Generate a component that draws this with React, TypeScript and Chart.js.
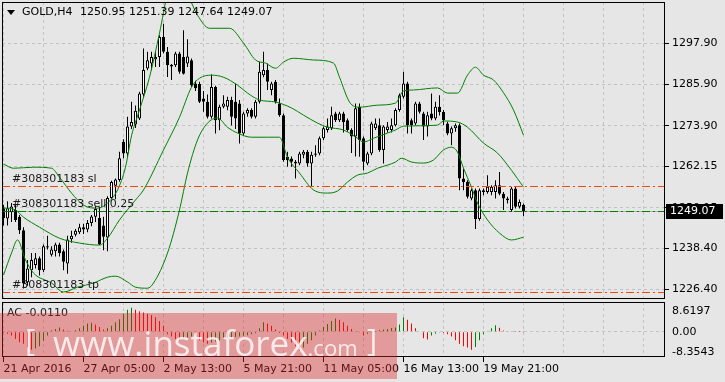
import { useEffect, useRef } from 'react';
import { Chart, registerables } from 'chart.js';

Chart.register(...registerables);

const FONT = 'DejaVu Sans';
const BG = '#e6e6e6';
const GRID = '#c3c3c3';
const GREEN = '#008000';
const ORANGE = '#ff4500';

const symbolTitle = 'GOLD,H4';
const titleValues = '1250.95 1251.39 1247.64 1249.07';

const opens = [
  1250.0, 1247.0, 1248.8, 1249.5, 1247.5, 1243.6, 1228.5, 1232.0, 1233.5, 1235.5,
  1232.0, 1238.6, 1236.5, 1237.5, 1239.5, 1237.5, 1234.0, 1241.0, 1242.3, 1243.0,
  1244.5, 1243.8, 1245.7, 1247.5, 1247.2, 1245.0, 1241.5, 1253.0, 1256.5, 1258.2,
  1269.3, 1265.9, 1273.7, 1274.3, 1276.0, 1283.0, 1290.5, 1292.0, 1293.2, 1293.9,
  1299.7, 1295.4, 1291.6, 1291.5, 1294.9, 1293.9, 1292.0, 1292.9, 1286.2, 1286.0,
  1281.8, 1280.9, 1276.5, 1285.2, 1275.5, 1279.4, 1279.4, 1281.4, 1280.9, 1280.4,
  1271.7, 1277.5, 1278.5, 1276.5, 1280.9, 1288.6, 1290.1, 1284.3, 1286.7, 1280.4,
  1277.0, 1264.9, 1264.4, 1263.5, 1263.0, 1265.5, 1266.4, 1263.0, 1265.5, 1265.9,
  1270.3, 1272.7, 1273.2, 1277.5, 1275.5, 1277.5, 1275.5, 1272.7, 1270.8, 1279.4,
  1270.3, 1263.0, 1265.9, 1273.2, 1274.1, 1266.9, 1272.7, 1272.7, 1274.1, 1278.5,
  1282.3, 1286.2, 1275.5, 1274.6, 1280.4, 1277.5, 1273.7, 1277.5, 1276.0, 1279.4,
  1277.9, 1274.6, 1271.7, 1273.2, 1274.1, 1258.6, 1257.6, 1252.8, 1255.2, 1246.9,
  1254.7, 1254.7, 1254.7, 1254.7, 1256.7, 1254.2, 1252.8, 1249.5, 1255.7, 1250.4,
  1250.95,
];
const highs = [
  1251.0, 1252.0, 1251.5, 1251.0, 1248.0, 1244.5, 1235.0, 1237.0, 1237.0, 1236.0,
  1239.5, 1242.0, 1239.0, 1240.0, 1240.0, 1238.0, 1242.0, 1243.5, 1244.0, 1245.5,
  1245.5, 1246.6, 1248.0, 1250.6, 1250.4, 1247.5, 1253.5, 1258.0, 1258.6, 1266.4,
  1270.0, 1276.5, 1280.9, 1279.8, 1283.8, 1296.3, 1295.4, 1295.4, 1295.4, 1300.2,
  1303.5, 1296.8, 1291.8, 1295.4, 1295.4, 1301.6, 1299.0, 1293.4, 1287.0, 1286.7,
  1284.0, 1283.0, 1288.8, 1285.5, 1280.0, 1282.8, 1282.3, 1282.3, 1286.2, 1281.4,
  1278.0, 1279.0, 1279.0, 1281.4, 1292.5, 1295.4, 1292.0, 1286.7, 1287.2, 1281.8,
  1277.5, 1266.4, 1265.0, 1264.0, 1266.4, 1266.9, 1266.9, 1266.4, 1268.3, 1270.8,
  1273.7, 1276.0, 1279.4, 1278.0, 1278.0, 1278.0, 1276.0, 1273.2, 1280.4, 1280.4,
  1270.8, 1266.4, 1275.1, 1276.0, 1276.0, 1274.1, 1275.0, 1276.0, 1279.0, 1283.3,
  1289.6, 1286.7, 1276.0, 1280.9, 1280.9, 1278.0, 1278.0, 1283.3, 1280.9, 1282.8,
  1278.5, 1275.1, 1273.7, 1274.6, 1274.6, 1261.5, 1258.1, 1255.7, 1255.7, 1255.7,
  1255.7, 1259.6, 1256.7, 1258.1, 1260.5, 1254.7, 1253.3, 1256.2, 1256.2, 1252.5,
  1251.39,
];
const lows = [
  1245.0, 1245.0, 1246.0, 1246.0, 1242.5, 1226.7, 1227.5, 1230.0, 1232.5, 1230.5,
  1231.5, 1238.0, 1236.0, 1236.0, 1236.0, 1232.0, 1231.0, 1240.0, 1241.8, 1242.5,
  1242.5, 1243.0, 1244.8, 1246.0, 1239.3, 1237.8, 1237.5, 1252.6, 1252.6, 1257.7,
  1264.5, 1264.8, 1273.0, 1273.3, 1275.6, 1282.3, 1290.0, 1290.0, 1291.0, 1291.0,
  1294.9, 1288.1, 1287.2, 1291.0, 1289.0, 1288.8, 1291.0, 1285.2, 1284.0, 1280.5,
  1278.0, 1276.0, 1276.0, 1271.7, 1272.6, 1279.0, 1278.4, 1274.0, 1273.0, 1268.8,
  1271.2, 1276.5, 1276.0, 1276.0, 1280.4, 1288.0, 1284.3, 1282.8, 1280.4, 1276.5,
  1263.5, 1262.0, 1262.0, 1258.6, 1262.5, 1264.5, 1262.0, 1256.2, 1264.9, 1265.4,
  1269.8, 1272.0, 1272.7, 1275.0, 1275.0, 1272.0, 1272.2, 1266.0, 1265.0, 1264.9,
  1261.0, 1262.5, 1265.4, 1272.7, 1266.4, 1263.0, 1272.0, 1272.0, 1273.7, 1278.0,
  1281.8, 1271.7, 1271.7, 1274.1, 1277.5, 1269.8, 1270.8, 1275.5, 1275.5, 1276.9,
  1274.1, 1271.2, 1268.3, 1272.2, 1255.2, 1255.2, 1252.8, 1252.3, 1244.0, 1246.4,
  1253.8, 1254.2, 1253.8, 1252.8, 1253.8, 1249.5, 1251.4, 1249.0, 1249.9, 1249.9,
  1247.64,
];
const closes = [
  1247.1, 1250.0, 1250.5, 1246.6, 1243.6, 1228.2, 1232.5, 1235.0, 1235.5, 1232.0,
  1239.0, 1239.0, 1238.0, 1239.5, 1237.0, 1234.5, 1240.9, 1242.0, 1243.5, 1244.5,
  1243.8, 1245.7, 1247.6, 1249.8, 1239.5, 1241.7, 1253.0, 1257.6, 1258.3, 1264.5,
  1265.9, 1273.7, 1275.0, 1278.3, 1283.3, 1290.1, 1292.9, 1293.9, 1293.9, 1299.7,
  1295.4, 1291.5, 1291.1, 1294.9, 1289.6, 1289.0, 1294.0, 1285.7, 1284.8, 1280.9,
  1280.9, 1276.5, 1285.2, 1275.5, 1279.4, 1280.4, 1281.4, 1276.5, 1276.0, 1271.7,
  1277.5, 1278.5, 1276.5, 1280.9, 1289.6, 1290.1, 1286.7, 1286.2, 1280.9, 1277.0,
  1264.0, 1263.9, 1263.5, 1263.0, 1265.9, 1266.4, 1263.0, 1265.5, 1265.9, 1270.3,
  1273.2, 1273.7, 1277.0, 1275.5, 1277.5, 1275.0, 1272.7, 1270.8, 1279.0, 1269.8,
  1263.5, 1265.9, 1274.6, 1274.6, 1266.9, 1273.7, 1273.7, 1274.1, 1278.5, 1282.8,
  1286.2, 1274.1, 1274.1, 1280.4, 1278.0, 1273.7, 1277.0, 1276.0, 1279.4, 1277.9,
  1275.5, 1271.7, 1273.2, 1274.1, 1258.6, 1257.6, 1253.3, 1255.2, 1246.9, 1255.2,
  1255.2, 1256.2, 1256.2, 1256.7, 1254.2, 1252.8, 1252.3, 1255.7, 1250.4, 1251.8,
  1249.07,
];

// Bollinger bands at these bar positions
const upperIdx = [0, 2.5, 7.5, 12, 14, 17, 20, 23.5, 26, 28.5, 30.5, 32, 34, 36.5, 39, 41, 43.5, 46, 48.5, 51.5,
  56.5, 60, 63, 65.5, 68, 70, 72.5, 77.5, 82.5, 84, 86.5, 89, 93.5, 98, 100, 102.5, 108.5, 111, 113.5, 116,
  118, 120, 122.5, 125, 127.5, 130];
const upperBand = [1262.8, 1261.6, 1261.9, 1261.6, 1259.0, 1254.4, 1250.9, 1250.0, 1251.5, 1255.3,
  1261.9, 1271.0, 1278.5, 1288.0, 1300.8, 1312.0, 1316.0, 1312.0, 1306.0, 1302.2,
  1302.2, 1297.9, 1293.0, 1292.1, 1290.6, 1292.4, 1293.5, 1293.0, 1292.1, 1288.0,
  1280.8, 1279.3, 1279.9, 1280.5, 1284.0, 1284.3, 1284.9, 1283.4, 1283.4, 1288.6,
  1290.9, 1288.6, 1287.2, 1283.5, 1278.5, 1271.2];
const midIdx = [0, 3, 5, 9, 14, 19, 24, 26, 29, 33, 35, 40, 44, 47, 49, 52, 55, 58.5, 61, 64,
  68, 72, 75, 78.5, 81, 85, 88.5, 90, 92.5, 96, 98, 100, 108.5, 110, 113.5, 116, 120, 123.5, 127, 130];
const midBand = [1250.1, 1249.5, 1247.4, 1244.5, 1241.3, 1239.9, 1239.3, 1241.3, 1246.6, 1252.4,
  1255.3, 1266.9, 1276.4, 1285.1, 1287.7, 1288.6, 1288.0, 1285.7, 1283.4, 1281.4,
  1280.8, 1279.1, 1277.0, 1274.7, 1273.5, 1272.7, 1270.3, 1269.2, 1270.3, 1271.8,
  1272.7, 1273.8, 1274.1, 1275.3, 1275.0, 1273.5, 1268.9, 1266.0, 1261.0, 1256.1];
const lowIdx = [0, 2, 3.5, 5.5, 7.5, 12, 15, 18.5, 22.5, 26, 28, 31, 33, 36, 37.5, 41, 44, 46, 48.5, 51,
  53.5, 56, 58.5, 62, 66, 69, 71, 74, 77.5, 81, 83.5, 86, 88.5, 91, 93.5, 96, 98, 99.5, 102, 105,
  107.5, 110, 112, 113.5, 115, 117, 118.5, 121, 124, 127, 130];
const lowBand = [1230.6, 1237.0, 1240.8, 1235.0, 1231.2, 1228.3, 1225.7, 1227.1, 1228.3, 1230.0,
  1230.3, 1228.6, 1227.1, 1226.8, 1228.3, 1237.0, 1249.5, 1260.2, 1269.8, 1274.7,
  1276.2, 1273.5, 1271.8, 1270.6, 1270.6, 1270.6, 1264.8, 1260.2, 1255.3, 1254.4,
  1255.0, 1257.6, 1259.6, 1260.2, 1261.6, 1262.5, 1263.4, 1264.5, 1263.4, 1263.1,
  1264.0, 1266.9, 1267.7, 1266.3, 1261.6, 1256.1, 1251.5, 1246.6, 1242.8, 1240.8,
  1241.6];

const acValues = [
  -0.3, -0.8, -1.6, -3.0, -4.4, -5.0, -6.4, -7.5, -7.0, -6.0,
  -3.7, -1.5, 0.5, 1.2, 1.8, 1.0, 0.4, 0.2, 0.6, 1.5,
  2.5, 3.4, 3.8, 3.0, 2.0, 1.0, 1.5, 2.5, 4.0, 5.2,
  7.5, 9.2, 10.0, 9.2, 8.5, 8.0, 7.5, 7.0, 6.0, 4.5,
  2.5, -1.0, -2.0, -3.0, -3.5, -3.0, -2.5, -2.0, -1.5, -3.5,
  -4.5, -5.0, -4.5, -4.0, -3.6, -3.2, -2.8, -2.5, -2.2, -2.0,
  -1.7, -1.4, -1.0, -0.6, 1.5, 4.0, 3.5, 2.5, 1.0, -0.5,
  -1.5, -3.0, -4.5, -6.0, -7.8, -6.5, -5.0, -3.5, -1.5, 0.5,
  2.0, 3.2, 4.5, 5.5, 5.0, 4.0, 2.5, 1.2, 0.3, -0.3,
  -1.6, -0.8, -0.3, 0.3, 0.6, 0.9, 1.2, 1.6, 1.8, 3.0,
  6.1, 5.0, 3.5, 1.5, 0.2, -2.7, -3.2, -1.5, -0.8, -0.3,
  -0.5, -1.0, -2.0, -3.5, -5.0, -6.0, -6.5, -7.5, -6.3, -3.5,
  -1.0, 0.3, 1.5, 2.7, 1.7, 0.5, 0.2, 0.1, 0.05, 0.02,
  -0.011,
];
const acLabel = 'AC -0.0110';
const acTicks = [8.6197, 0, -8.3543];
const acTickLabels = ['8.6197', '0.00', '-8.3543'];

const priceTicks = [1226.4, 1238.4, 1250.15, 1262.15, 1273.9, 1285.9, 1297.9];
const gridIdx = [0, 10, 20, 30, 40, 50, 60, 70, 80, 90, 100, 110, 120, 130, 140, 150, 160];
const timeTickIdx = [0, 20, 40, 60, 80, 100, 120];
const timeTickLabels = ['21 Apr 2016', '27 Apr 05:00', '2 May 13:00', '5 May 21:00', '11 May 05:00', '16 May 13:00', '19 May 21:00'];

const orderId = '#308301183';
const slPrice = 1256.43;
const tpPrice = 1225.7;
const sellPrice = 1249.3;
const sellLots = '0.25';
const bidPrice = 1249.07;

const X_MIN = -0.375;
const X_MAX = 165.375;
const Y_MIN = 1223.67;
const Y_MAX = 1309.82;
const AC_MIN = -10.5;
const AC_MAX = 12.4;

const DASHDOT = [8, 3, 2, 3];

const font = (size = 11) => `${size}px "${FONT}"`;

const noPad = (s: any) => {
  s.paddingTop = 0;
  s.paddingBottom = 0;
  s.paddingLeft = 0;
  s.paddingRight = 0;
};

const mainOverlay = {
  id: 'mainOverlay',
  beforeDatasetsDraw(chart: any) {
    const { ctx, chartArea: a, scales } = chart;
    const yb = Math.round(scales.y.getPixelForValue(bidPrice)) + 0.5;
    ctx.save();
    ctx.strokeStyle = '#b0b0b0';
    ctx.lineWidth = 1;
    ctx.beginPath();
    ctx.moveTo(a.left, yb);
    ctx.lineTo(a.right, yb);
    ctx.stroke();
    ctx.restore();
  },
  afterDatasetsDraw(chart: any) {
    const { ctx, chartArea: a, scales } = chart;
    const lines = [
      { p: slPrice, c: ORANGE, t: `${orderId} sl` },
      { p: sellPrice, c: GREEN, t: `${orderId} sell ${sellLots}` },
      { p: tpPrice, c: ORANGE, t: `${orderId} tp` },
    ];
    ctx.save();
    ctx.lineWidth = 1;
    ctx.setLineDash(DASHDOT);
    for (const l of lines) {
      const y = Math.round(scales.y.getPixelForValue(l.p)) + 0.5;
      ctx.strokeStyle = l.c;
      ctx.beginPath();
      ctx.moveTo(a.left, y);
      ctx.lineTo(a.right, y);
      ctx.stroke();
    }
    ctx.setLineDash([]);
    ctx.font = font(11);
    ctx.fillStyle = '#1a1a1a';
    ctx.textBaseline = 'middle';
    ctx.textAlign = 'left';
    for (const l of lines) {
      const y = scales.y.getPixelForValue(l.p);
      ctx.fillText(l.t, 12, y - 7);
    }
    ctx.restore();
  },
  afterDraw(chart: any) {
    const { ctx, chartArea: a, scales } = chart;
    ctx.save();
    ctx.strokeStyle = '#000';
    ctx.lineWidth = 1;
    ctx.strokeRect(a.left + 0.5, a.top + 0.5, a.right - a.left - 1, a.bottom - a.top - 1);
    ctx.fillStyle = '#000';
    ctx.beginPath();
    ctx.moveTo(7, 10);
    ctx.lineTo(15, 10);
    ctx.lineTo(11, 15);
    ctx.closePath();
    ctx.fill();
    ctx.font = font(11);
    ctx.textBaseline = 'middle';
    ctx.textAlign = 'left';
    ctx.fillText(symbolTitle, 22, 12.5);
    ctx.fillText(titleValues, 80, 12.5);
    const yb = Math.round(scales.y.getPixelForValue(bidPrice));
    ctx.fillStyle = '#000';
    ctx.fillRect(666, yb - 7, 57, 15);
    ctx.fillStyle = '#fff';
    ctx.fillText(bidPrice.toFixed(2), 670, yb + 0.5);
    ctx.restore();
  },
};

const acOverlay = {
  id: 'acOverlay',
  afterDraw(chart: any) {
    const { ctx, chartArea: a } = chart;
    ctx.save();
    ctx.strokeStyle = '#000';
    ctx.lineWidth = 1;
    ctx.strokeRect(a.left + 0.5, a.top + 0.5, a.right - a.left - 1, a.bottom - a.top - 1);
    ctx.font = font(11);
    ctx.fillStyle = '#1a1a1a';
    ctx.textBaseline = 'middle';
    ctx.fillText(acLabel, 7, 13);
    ctx.restore();
  },
};

export default function App() {
  const mainRef = useRef<HTMLCanvasElement>(null);
  const acRef = useRef<HTMLCanvasElement>(null);

  useEffect(() => {
    document.body.style.margin = '0';
    document.body.style.background = BG;
    Chart.defaults.font.family = FONT;
    Chart.defaults.font.size = 11;

    const idx = closes.map((_, i) => i);
    const bodyColors = closes.map((c, i) => (c >= opens[i] ? '#ffffff' : '#000000'));

    const main = new Chart(mainRef.current as HTMLCanvasElement, {
      type: 'bar',
      data: {
        datasets: [
          {
            type: 'line',
            data: upperIdx.map((x, k) => ({ x, y: upperBand[k] })),
            borderColor: GREEN, borderWidth: 1, pointRadius: 0, cubicInterpolationMode: 'monotone', order: 0,
          } as any,
          {
            type: 'line',
            data: midIdx.map((x, k) => ({ x, y: midBand[k] })),
            borderColor: GREEN, borderWidth: 1, pointRadius: 0, cubicInterpolationMode: 'monotone', order: 0,
          } as any,
          {
            type: 'line',
            data: lowIdx.map((x, k) => ({ x, y: lowBand[k] })),
            borderColor: GREEN, borderWidth: 1, pointRadius: 0, cubicInterpolationMode: 'monotone', order: 0,
          } as any,
          {
            type: 'bar',
            data: idx.map((i) => ({ x: i, y: [opens[i], closes[i]] })),
            backgroundColor: bodyColors, borderColor: '#000', borderWidth: 1, borderSkipped: false,
            barThickness: 3, grouped: false, inflateAmount: 0, order: 1,
          } as any,
          {
            type: 'bar',
            data: idx.map((i) => ({ x: i, y: [lows[i], highs[i]] })),
            backgroundColor: '#000', borderWidth: 0, barThickness: 1, grouped: false, inflateAmount: 0, order: 2,
          } as any,
        ],
      },
      options: {
        responsive: false,
        animation: false,
        devicePixelRatio: 1,
        layout: { padding: { left: 2, top: 2, right: 0, bottom: 1 } },
        plugins: { legend: { display: false }, tooltip: { enabled: false } },
        scales: {
          x: {
            type: 'linear', min: X_MIN, max: X_MAX, offset: false,
            afterBuildTicks: (s: any) => { s.ticks = gridIdx.map((v) => ({ value: v })); },
            afterFit: (s: any) => { s.height = 0; noPad(s); },
            ticks: { display: false },
            grid: { color: GRID, drawTicks: false, offset: false },
            border: { display: false, dash: [3, 3] },
          },
          y: {
            position: 'right', min: Y_MIN, max: Y_MAX,
            afterBuildTicks: (s: any) => { s.ticks = priceTicks.map((v) => ({ value: v })); },
            afterFit: (s: any) => { s.width = 60; noPad(s); },
            ticks: { callback: (v: any) => Number(v).toFixed(2), color: '#000', padding: 3, font: { family: FONT, size: 11 } },
            grid: { color: GRID, tickColor: '#000', tickLength: 4 },
            border: { display: false, dash: [3, 3] },
          },
        },
      } as any,
      plugins: [mainOverlay],
    });

    const acColors = acValues.map((v, i) => (i > 0 && v > acValues[i - 1] ? GREEN : '#ff0000'));

    const ac = new Chart(acRef.current as HTMLCanvasElement, {
      type: 'bar',
      data: {
        datasets: [
          {
            data: acValues.map((v, i) => ({ x: i, y: v })),
            backgroundColor: acColors, borderWidth: 0, barThickness: 1, grouped: false, inflateAmount: 0,
          } as any,
        ],
      },
      options: {
        responsive: false,
        animation: false,
        devicePixelRatio: 1,
        layout: { padding: { left: 2, top: 2, right: 0, bottom: 0 } },
        plugins: { legend: { display: false }, tooltip: { enabled: false } },
        scales: {
          x: {
            type: 'linear', min: X_MIN, max: X_MAX, offset: false,
            afterBuildTicks: (s: any) => { s.ticks = gridIdx.map((v) => ({ value: v })); },
            afterFit: (s: any) => { s.height = 25; noPad(s); },
            ticks: {
              autoSkip: false, maxRotation: 0, align: 'start', padding: 1, color: '#000',
              font: { family: FONT, size: 11 },
              callback: (v: any) => {
                const k = timeTickIdx.indexOf(Number(v));
                return k >= 0 ? timeTickLabels[k] : '';
              },
            },
            grid: {
              color: GRID, offset: false, tickLength: 5,
              tickColor: (c: any) => (c.tick && timeTickIdx.indexOf(c.tick.value) >= 0 ? '#000' : 'rgba(0,0,0,0)'),
            },
            border: { display: false, dash: [3, 3] },
          },
          y: {
            position: 'right', min: AC_MIN, max: AC_MAX,
            afterBuildTicks: (s: any) => { s.ticks = acTicks.map((v) => ({ value: v })); },
            afterFit: (s: any) => { s.width = 60; noPad(s); },
            ticks: {
              color: '#000', padding: 3, font: { family: FONT, size: 11 },
              callback: (v: any) => {
                const k = acTicks.indexOf(Number(v));
                return k >= 0 ? acTickLabels[k] : '';
              },
            },
            grid: {
              color: (c: any) => (c.tick && c.tick.value === 0 ? GRID : 'rgba(0,0,0,0)'),
              tickColor: 'rgba(0,0,0,0)', tickLength: 4,
            },
            border: { display: false, dash: [3, 3] },
          },
        },
      } as any,
      plugins: [acOverlay],
    });

    return () => {
      main.destroy();
      ac.destroy();
    };
  }, []);

  const wmText = 'rgba(255,255,255,0.8)';
  return (
    <div style={{ position: 'relative', width: 725, height: 382, background: BG, overflow: 'hidden' }}>
      <canvas ref={mainRef} width={725} height={300} style={{ position: 'absolute', left: 0, top: 0, width: 725, height: 300 }} />
      <canvas ref={acRef} width={725} height={82} style={{ position: 'absolute', left: 0, top: 300, width: 725, height: 82 }} />
      <div
        style={{
          position: 'absolute', left: 0, top: 313, width: 397, height: 66,
          background: 'rgba(220,40,40,0.4)', overflow: 'hidden', fontFamily: '"Open Sans"', color: wmText,
          whiteSpace: 'nowrap',
        }}
      >
        <span style={{ position: 'absolute', left: 25, top: 11, fontSize: 31, lineHeight: '31px' }}>[</span>
        <span style={{ position: 'absolute', left: 53, top: 12, fontSize: 35, lineHeight: '35px' }}>
          www.instaforex<span style={{ fontSize: 22 }}>.com</span>
        </span>
        <span style={{ position: 'absolute', left: 367, top: 11, fontSize: 31, lineHeight: '31px' }}>]</span>
      </div>
    </div>
  );
}
